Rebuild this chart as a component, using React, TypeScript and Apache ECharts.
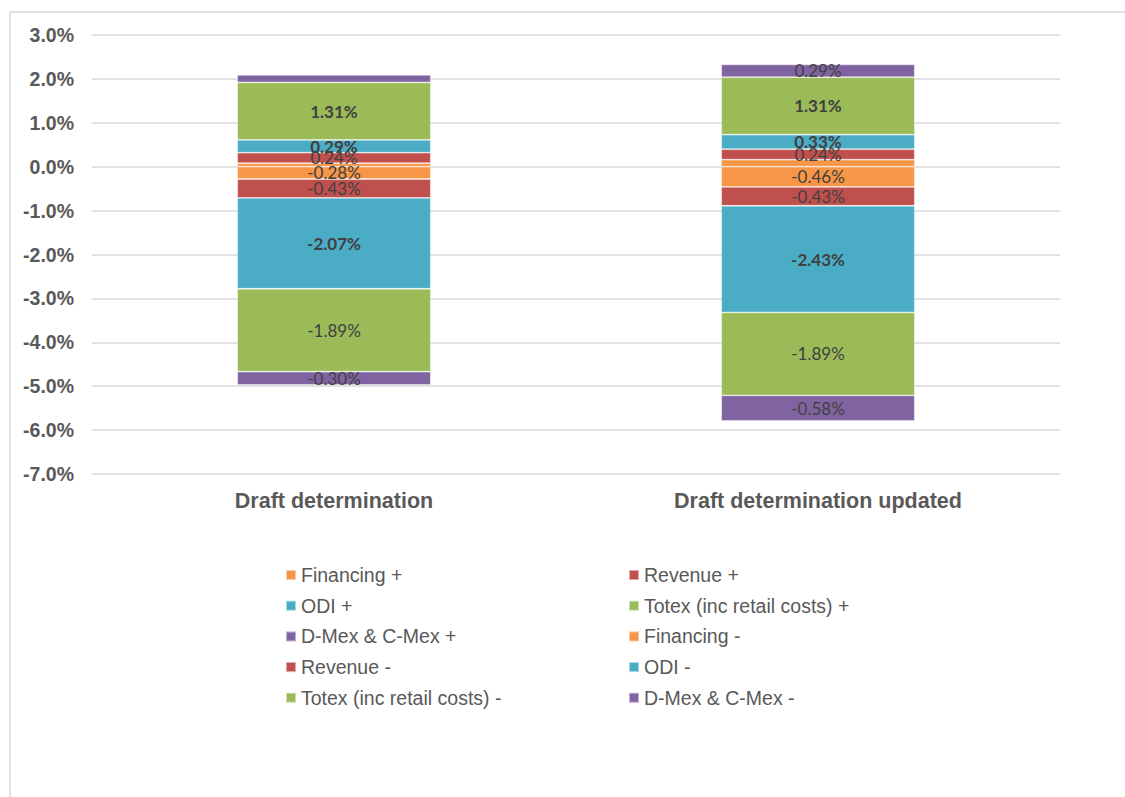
import React, { useEffect, useRef } from "react";
import * as echarts from "echarts";

const categories = ["Draft determination", "Draft determination updated"];

const seriesNames = [
  "Financing +",
  "Revenue +",
  "ODI +",
  "Totex (inc retail costs) +",
  "D-Mex & C-Mex +",
  "Financing -",
  "Revenue -",
  "ODI -",
  "Totex (inc retail costs) -",
  "D-Mex & C-Mex -",
];

const financingPos = [0.08, 0.16];
const revenuePos = [0.24, 0.24];
const odiPos = [0.29, 0.33];
const totexPos = [1.31, 1.31];
const dmexPos = [0.17, 0.29];
const financingNeg = [-0.28, -0.46];
const revenueNeg = [-0.43, -0.43];
const odiNeg = [-2.07, -2.43];
const totexNeg = [-1.89, -1.89];
const dmexNeg = [-0.3, -0.58];

const seriesValues = [
  financingPos,
  revenuePos,
  odiPos,
  totexPos,
  dmexPos,
  financingNeg,
  revenueNeg,
  odiNeg,
  totexNeg,
  dmexNeg,
];

// which data labels are shown, per series and category
const labelShown = [
  [false, false],
  [true, true],
  [true, true],
  [true, true],
  [false, true],
  [true, true],
  [true, true],
  [true, true],
  [true, true],
  [true, true],
];
const labelBold = [false, false, true, true, false, false, false, true, false, false];

const colors = [
  "#F79646",
  "#C0504D",
  "#4BACC6",
  "#9BBB59",
  "#8064A2",
  "#F79646",
  "#C0504D",
  "#4BACC6",
  "#9BBB59",
  "#8064A2",
];

const yMin = -7;
const yMax = 3;
const yInterval = 1;

const legendCol1 = [seriesNames[0], seriesNames[2], seriesNames[4], seriesNames[6], seriesNames[8]];
const legendCol2 = [seriesNames[1], seriesNames[3], seriesNames[5], seriesNames[7], seriesNames[9]];

export default function App() {
  const ref = useRef<HTMLDivElement>(null);

  useEffect(() => {
    document.body.style.margin = "0";
    if (!ref.current) return;
    const chart = echarts.init(ref.current, null, { renderer: "svg" });

    const legendCommon = {
      orient: "vertical" as const,
      top: 565,
      padding: 0,
      itemWidth: 10,
      itemHeight: 10,
      itemGap: 10.7,
      icon: "rect",
      selectedMode: false,
      textStyle: {
        fontFamily: "Liberation Sans, Arial, sans-serif",
        fontSize: 19.5,
        lineHeight: 20,
        color: "#595959",
        padding: [0, 0, 0, 0],
      },
    };

    const option = {
      animation: false,
      color: colors,
      graphic: [
        {
          type: "rect",
          shape: { x: 10, y: 12, width: 1140, height: 820 },
          style: { fill: "none", stroke: "#d9d9d9", lineWidth: 1.5 },
          silent: true,
        },
      ],
      legend: [
        { ...legendCommon, left: 285, data: legendCol1 },
        { ...legendCommon, left: 628, data: legendCol2 },
      ],
      grid: { left: 92, right: 65, top: 35, height: 439, containLabel: false },
      xAxis: {
        type: "category",
        data: categories,
        axisLine: { show: false },
        axisTick: { show: false },
        axisLabel: {
          margin: 16,
          fontFamily: "Liberation Sans, Arial, sans-serif",
          fontWeight: "bold",
          fontSize: 21.5,
          color: "#595959",
        },
      },
      yAxis: {
        type: "value",
        min: yMin,
        max: yMax,
        interval: yInterval,
        axisLine: { show: false },
        axisTick: { show: false },
        splitLine: { lineStyle: { color: "#d9d9d9", width: 1.5 } },
        axisLabel: {
          margin: 18,
          fontFamily: "Liberation Sans, Arial, sans-serif",
          fontWeight: "bold",
          fontSize: 19.5,
          color: "#595959",
          formatter: (v: number) => v.toFixed(1) + "%",
        },
      },
      series: seriesNames.map((name, i) => ({
        name,
        type: "bar",
        stack: "total",
        barWidth: "40%",
        itemStyle: { color: colors[i], borderColor: "rgba(255,255,255,0.5)", borderWidth: 0.8 },
        label: {
          show: true,
          position: "inside",
          fontFamily: "Lato, Carlito, Calibri, sans-serif",
          fontSize: 17,
          fontWeight: labelBold[i] ? "bold" : "normal",
          color: "#404040",
          formatter: (p: any) => p.value.toFixed(2) + "%",
        },
        data: seriesValues[i].map((v, j) => ({
          value: v,
          label: { show: labelShown[i][j] },
        })),
      })),
    };

    chart.setOption(option as any);
    return () => chart.dispose();
  }, []);

  return <div ref={ref} style={{ width: 1125, height: 797 }} />;
}
